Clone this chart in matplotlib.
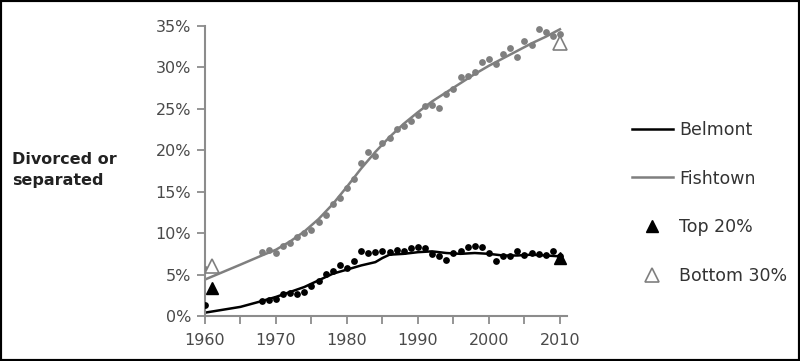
import matplotlib
matplotlib.use("Agg")
import matplotlib.pyplot as plt
from matplotlib.lines import Line2D
from matplotlib.patches import Rectangle
from matplotlib.ticker import FixedLocator, FuncFormatter

# --- data (percent divorced or separated) ---
dot_years = [1960] + list(range(1968, 2011))
fishtown_dots = [5.7,
                 7.7, 8.0, 7.6, 8.5, 8.8, 9.5, 10.0, 10.4, 11.3, 12.2,
                 13.5, 14.2, 15.5, 16.5, 18.5, 19.8, 19.3, 20.9, 21.5, 22.6,
                 22.9, 23.5, 24.3, 25.4, 25.5, 25.1, 26.8, 27.4, 28.9, 29.0,
                 29.4, 30.6, 31.0, 30.4, 31.6, 32.4, 31.2, 33.2, 32.7, 34.6,
                 34.3, 33.8, 34.0]
belmont_dots = [1.3,
                1.8, 1.9, 2.1, 2.7, 2.8, 2.6, 2.9, 3.6, 4.2, 5.1,
                5.4, 6.1, 5.8, 6.6, 7.8, 7.6, 7.7, 7.9, 7.7, 8.0,
                7.8, 8.2, 8.3, 8.2, 7.5, 7.2, 6.8, 7.6, 7.8, 8.3,
                8.4, 8.3, 7.6, 6.6, 7.2, 7.2, 7.9, 7.3, 7.6, 7.5,
                7.3, 7.8, 7.2]

line_years = [1960, 1965, 1968, 1970, 1972, 1974, 1976, 1978, 1980, 1982,
              1984, 1985, 1986, 1988, 1990, 1992, 1994, 1996, 1998, 2000,
              2002, 2004, 2006, 2008, 2010]
fishtown_line = [4.4, 6.2, 7.3, 8.0, 9.0, 10.2, 11.7, 13.5, 15.6, 17.8,
                 19.8, 20.7, 21.6, 23.2, 24.6, 25.9, 27.0, 28.1, 29.2, 30.2,
                 31.1, 32.0, 32.9, 33.7, 34.6]
belmont_line = [0.4, 1.1, 1.8, 2.3, 2.9, 3.5, 4.3, 5.1, 5.6, 6.1,
                6.5, 7.0, 7.4, 7.5, 7.7, 7.8, 7.6, 7.5, 7.6, 7.5,
                7.3, 7.3, 7.4, 7.3, 7.2]

tri_years = [1961, 2010]
top20 = [3.4, 7.0]
bottom30 = [6.0, 33.0]

gray = "#7f7f7f"
axis_gray = "#8c8c8c"
text_gray = "#4a4a4a"

plt.rcParams["font.family"] = "DejaVu Sans"

fig = plt.figure(figsize=(8, 3.61), dpi=100)
ax = fig.add_axes([0.25625, 0.1247, 0.4525, 0.8033])

ax.scatter(dot_years, fishtown_dots, s=24, color=gray, zorder=3, linewidths=0)
ax.scatter(dot_years, belmont_dots, s=24, color="black", zorder=3, linewidths=0)
ax.plot(line_years, fishtown_line, color=gray, lw=1.8, zorder=2)
ax.plot(line_years, belmont_line, color="black", lw=1.8, zorder=2)
ax.plot(tri_years, top20, ls="none", marker="^", ms=9, color="black", zorder=4)
ax.plot(tri_years, bottom30, ls="none", marker="^", ms=10, mfc="white",
        mec=gray, mew=1.2, zorder=4)

ax.set_xlim(1960, 2011)
ax.set_ylim(0, 35)
ax.set_yticks(range(0, 36, 5))
ax.yaxis.set_major_formatter(FuncFormatter(lambda v, p: f"{int(v)}%"))
ax.set_xticks(range(1960, 2011, 10))
ax.xaxis.set_minor_locator(FixedLocator(range(1965, 2010, 10)))

for s in ["top", "right"]:
    ax.spines[s].set_visible(False)
for s in ["left", "bottom"]:
    ax.spines[s].set_color(axis_gray)
    ax.spines[s].set_linewidth(1.5)
ax.tick_params(which="both", colors=axis_gray, length=6, width=1.3,
               labelcolor=text_gray, labelsize=11.5)
ax.tick_params(axis="y", pad=4)
ax.tick_params(axis="x", pad=6)

fig.text(0.015, 0.53, "Divorced or\nseparated", fontsize=11.5,
         fontweight="bold", color="#222222", ha="left", va="center",
         linespacing=1.5)

handles = [
    Line2D([], [], color="black", lw=1.8),
    Line2D([], [], color=gray, lw=1.8),
    Line2D([], [], ls="none", marker="^", ms=9, color="black"),
    Line2D([], [], ls="none", marker="^", ms=10, mfc="white", mec=gray, mew=1.2),
]
labels = ["Belmont", "Fishtown", "Top 20%", "Bottom 30%"]
fig.legend(handles, labels, loc="center left", bbox_to_anchor=(0.79, 0.4377),
           frameon=False, fontsize=12.5, labelcolor="#333333",
           handlelength=2.35, handletextpad=0.35, labelspacing=1.78,
           borderpad=0, borderaxespad=0)

fig.patches.append(Rectangle((0, 0), 1, 1, transform=fig.transFigure,
                             fill=False, edgecolor="black", lw=3))

fig.savefig("out.png", dpi=100)
